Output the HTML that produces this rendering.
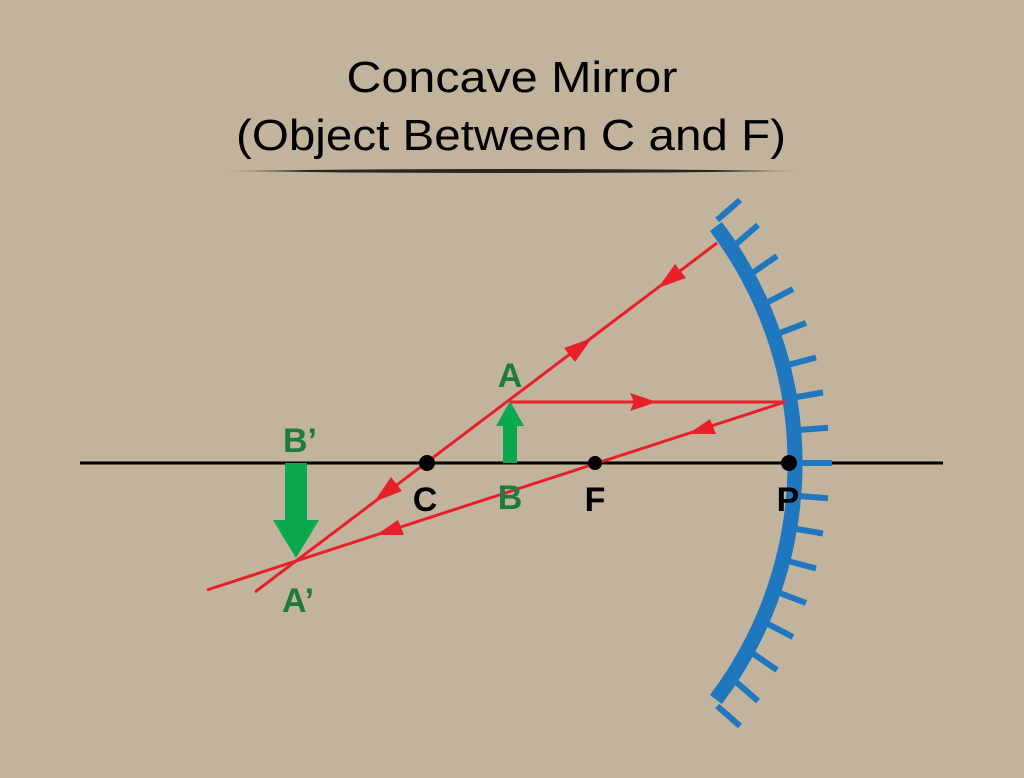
<!DOCTYPE html>
<html><head><meta charset="utf-8"><style>
html,body{margin:0;padding:0;background:#c2b49c;}
svg{display:block;}
text{font-family:"Liberation Sans",sans-serif;}
</style></head><body>
<svg width="1024" height="778" viewBox="0 0 1024 778" xmlns="http://www.w3.org/2000/svg">
<defs>
<linearGradient id="ul" x1="0" x2="1" y1="0" y2="0">
<stop offset="0" stop-color="#2a2520" stop-opacity="0.2"/>
<stop offset="0.15" stop-color="#2a2520"/>
<stop offset="0.85" stop-color="#2a2520"/>
<stop offset="1" stop-color="#2a2520" stop-opacity="0.2"/>
</linearGradient>
</defs>
<rect width="1024" height="778" fill="#c2b49c"/>
<text x="512" y="92" font-size="44" text-anchor="middle" textLength="331" lengthAdjust="spacingAndGlyphs" fill="#000">Concave Mirror</text>
<text x="511" y="150" font-size="44" text-anchor="middle" textLength="550" lengthAdjust="spacingAndGlyphs" fill="#000">(Object Between C and F)</text>
<path d="M224 171 Q512 167 800 171 Q512 175 224 171 Z" fill="url(#ul)"/>

<line x1="80" y1="463" x2="943" y2="463" stroke="#000" stroke-width="3"/>

<path d="M715.9 226.5 A393 393 0 0 1 715.9 699.5" fill="none" stroke="#1f77c0" stroke-width="15"/>
<g stroke="#1f77c0" stroke-width="6">
<line x1="802" y1="463" x2="832" y2="463"/>
<line x1="800.6" y1="429.9" x2="828" y2="427.8"/>
<line x1="800.6" y1="496.1" x2="828" y2="498.2"/>
<line x1="796.5" y1="397" x2="823" y2="392.5"/>
<line x1="796.5" y1="529" x2="823" y2="533.5"/>
<line x1="789.7" y1="364.5" x2="816" y2="357.5"/>
<line x1="789.7" y1="561.5" x2="816" y2="568.5"/>
<line x1="780.2" y1="332.8" x2="806" y2="323"/>
<line x1="780.2" y1="593.2" x2="806" y2="603"/>
<line x1="768.1" y1="301.9" x2="793" y2="289"/>
<line x1="768.1" y1="624.1" x2="793" y2="637"/>
<line x1="753.5" y1="272.1" x2="777" y2="256"/>
<line x1="753.5" y1="653.9" x2="777" y2="670"/>
<line x1="736.5" y1="243.7" x2="758" y2="225"/>
<line x1="736.5" y1="682.3" x2="758" y2="701"/>
<line x1="717.2" y1="220" x2="740" y2="200"/>
<line x1="717.2" y1="706" x2="740" y2="726"/>
</g>

<g stroke="#e8202a" stroke-width="3" fill="none">
<line x1="717" y1="243" x2="255" y2="592"/>
<line x1="510" y1="402" x2="785" y2="402"/>
<line x1="785" y1="402" x2="207" y2="590"/>
</g>
<g fill="#e8202a">
<polygon points="658,288 686,278 675,264"/>
<polygon points="592,338 564,348 575,362"/>
<polygon points="374,502 402,491 391,477"/>
<polygon points="657,402 630,393 634,402 630,411"/>
<polygon points="688,434 716,434 710,419"/>
<polygon points="376,535 404,535 398,520"/>
</g>

<g fill="#0aa84f">
<rect x="503" y="424" width="14" height="39"/>
<polygon points="510,401 524,426 496,426"/>
<rect x="285" y="463" width="22" height="58"/>
<polygon points="273,520 319,520 296,558"/>
</g>

<g fill="#000">
<circle cx="427" cy="463" r="8"/>
<circle cx="595" cy="463" r="7"/>
<circle cx="789" cy="463" r="8"/>
</g>

<g font-size="34" font-weight="bold" text-anchor="middle">
<text x="510" y="387" fill="#1e7a3f">A</text>
<text x="300" y="452" fill="#1e7a3f">B’</text>
<text x="510" y="509" fill="#1e7a3f">B</text>
<text x="298" y="612" fill="#1e7a3f">A’</text>
<text x="425" y="511" fill="#000">C</text>
<text x="595" y="511" fill="#000">F</text>
<text x="788" y="511" fill="#000">P</text>
</g>
</svg>
</body></html>
